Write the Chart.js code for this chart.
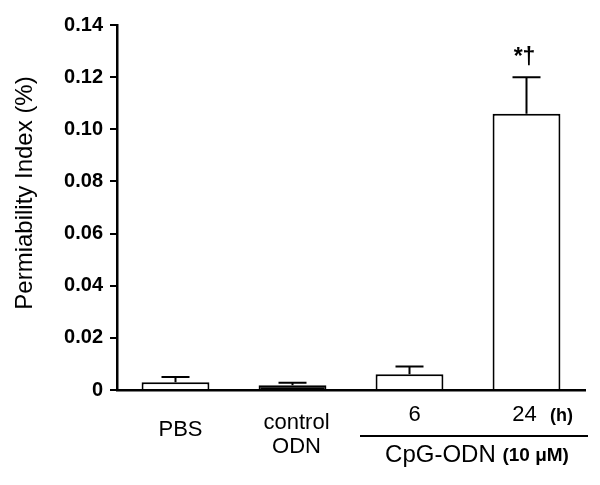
<!DOCTYPE html>
<html>
<head>
<meta charset="utf-8">
<script src="https://cdn.jsdelivr.net/npm/chart.js@4"></script>
<style>
  html, body { margin: 0; padding: 0; background: #fff; }
  #wrap { width: 600px; height: 485px; }
</style>
</head>
<body>
<div id="wrap"><canvas id="chart" width="600" height="485"></canvas></div>
<script>
var categories = ['PBS', 'control ODN', '6', '24'];
var values = [0.003, 0.0018, 0.006, 0.106];
var errors = [0.002, 0.001, 0.003, 0.014];
var fills = ['#ffffff', '#000000', '#ffffff', '#ffffff'];
var yTicks = [0, 0.02, 0.04, 0.06, 0.08, 0.10, 0.12, 0.14];

var FONT = 'Liberation Sans, Arial, sans-serif';

// error bars, significance mark, category labels and the CpG bracket
var extras = {
  id: 'extras',
  afterDatasetsDraw(chart) {
    var ctx = chart.ctx;
    var x = chart.scales.x, y = chart.scales.y;
    ctx.save();
    ctx.strokeStyle = '#000';
    ctx.lineWidth = 2;
    values.forEach(function(v, i) {
      var cx = x.getPixelForValue(i);
      var top = y.getPixelForValue(v);
      var end = y.getPixelForValue(v + errors[i]);
      ctx.beginPath();
      ctx.moveTo(cx, top);
      ctx.lineTo(cx, end);
      ctx.moveTo(cx - 14, end);
      ctx.lineTo(cx + 14, end);
      ctx.stroke();
    });

    ctx.fillStyle = '#000';
    ctx.textAlign = 'center';
    ctx.textBaseline = 'middle';

    // *† above the 24 h bar
    var c3 = x.getPixelForValue(3);
    ctx.font = 'bold 23px ' + FONT;
    ctx.fillText('*\u2020', c3 - 2, y.getPixelForValue(0.12) - 19);

    // category labels
    ctx.font = '22px ' + FONT;
    ctx.fillText('PBS', x.getPixelForValue(0) + 5, 430);
    ctx.fillText('control', x.getPixelForValue(1) + 4, 423);
    ctx.fillText('ODN', x.getPixelForValue(1) + 4, 447);
    ctx.fillText('6', x.getPixelForValue(2) + 5, 415);
    ctx.fillText('24', c3 - 2, 415);
    ctx.font = 'bold 18px ' + FONT;
    ctx.fillText('(h)', c3 + 35, 416);

    // bracket under the CpG-ODN groups
    ctx.lineWidth = 2;
    ctx.beginPath();
    ctx.moveTo(360, 436);
    ctx.lineTo(588, 436);
    ctx.stroke();

    ctx.textAlign = 'left';
    ctx.font = '24px ' + FONT;
    var t1 = 'CpG-ODN ';
    var w1 = ctx.measureText(t1).width;
    ctx.font = 'bold 19px ' + FONT;
    var t2 = '(10 \u03bcM)';
    var w2 = ctx.measureText(t2).width;
    var sx = 477 - (w1 + w2) / 2;
    ctx.font = '24px ' + FONT;
    ctx.fillText(t1, sx, 455);
    ctx.font = 'bold 19px ' + FONT;
    ctx.fillText(t2, sx + w1, 456);

    // y axis title
    ctx.translate(25, 193);
    ctx.rotate(-Math.PI / 2);
    ctx.textAlign = 'center';
    ctx.font = '24px ' + FONT;
    ctx.fillText('Permiability Index (%)', 0, 0);
    ctx.restore();
  }
};

new Chart(document.getElementById('chart'), {
  type: 'bar',
  data: {
    labels: categories,
    datasets: [{
      data: values,
      backgroundColor: fills,
      borderColor: '#000',
      borderWidth: 2,
      borderSkipped: 'bottom',
      barPercentage: 0.58,
      categoryPercentage: 1.0
    }]
  },
  options: {
    responsive: false,
    animation: false,
    devicePixelRatio: 1,
    layout: { padding: { top: 25, right: 15, left: 0, bottom: 0 } },
    plugins: {
      legend: { display: false },
      tooltip: { enabled: false }
    },
    scales: {
      x: {
        grid: { display: false },
        border: { display: true, color: '#000', width: 2.5 },
        ticks: { display: false },
        afterFit: function(scale) { scale.height = 95; }
      },
      y: {
        min: 0,
        max: 0.14,
        afterBuildTicks: function(scale) {
          scale.ticks = yTicks.map(function(v) { return { value: v }; });
        },
        ticks: {
          color: '#000',
          padding: 7,
          font: { family: FONT, size: 20, weight: 'bold' },
          callback: function(v) { return v === 0 ? '0' : v.toFixed(2); }
        },
        grid: {
          drawOnChartArea: false,
          drawTicks: true,
          tickLength: 7,
          color: '#000',
          lineWidth: 2
        },
        border: { display: true, color: '#000', width: 2.5 },
        afterFit: function(scale) { scale.width = 117; }
      }
    }
  },
  plugins: [extras]
});
</script>
</body>
</html>
